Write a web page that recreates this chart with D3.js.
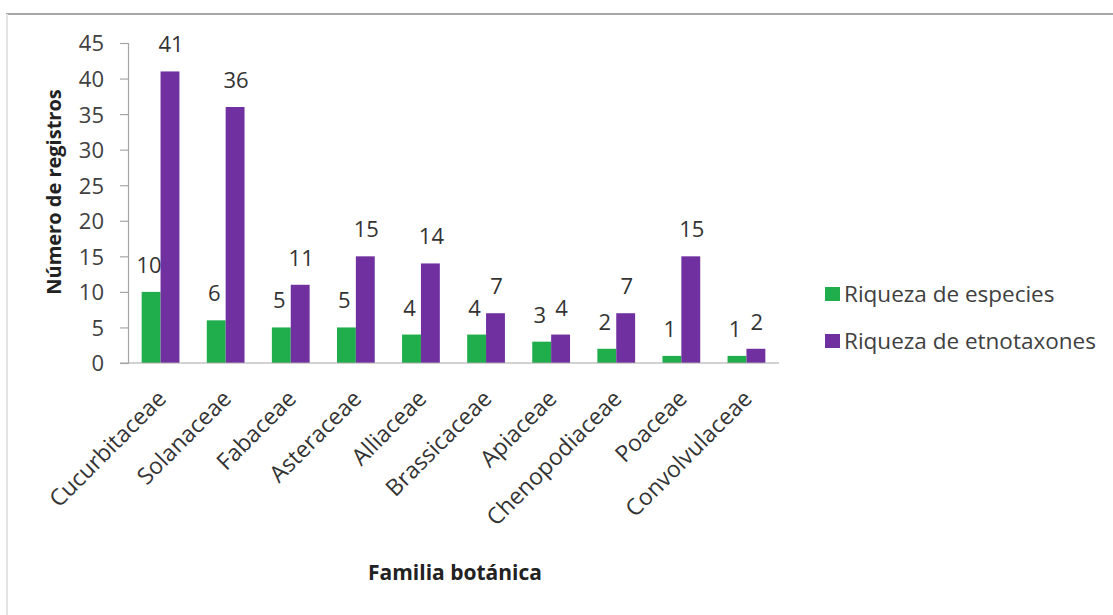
<!DOCTYPE html>
<html>
<head>
<meta charset="utf-8">
<script src="https://cdn.jsdelivr.net/npm/d3@7"></script>
<style>
  html, body { margin: 0; padding: 0; background: #fff; }
  svg, svg text { font-family: "Open Sans", "DejaVu Sans", sans-serif; }
  svg { display: block; }
</style>
</head>
<body>
<svg id="chart" width="1113" height="615"></svg>
<script>
// Familias botánicas y número de registros por familia
const familias = ["Cucurbitaceae", "Solanaceae", "Fabaceae", "Asteraceae", "Alliaceae",
  "Brassicaceae", "Apiaceae", "Chenopodiaceae", "Poaceae", "Convolvulaceae"];
const riquezaEspecies = [10, 6, 5, 5, 4, 4, 3, 2, 1, 1];
const riquezaEtnotaxones = [41, 36, 11, 15, 14, 7, 4, 7, 15, 2];
const yTicks = [0, 5, 10, 15, 20, 25, 30, 35, 40, 45];
const seriesNames = ["Riqueza de especies", "Riqueza de etnotaxones"];
const seriesColors = ["#1fae4b", "#7030a0"];

const svg = d3.select("#chart");
const W = 1113, H = 615;
const FONT = '"Open Sans", "DejaVu Sans", sans-serif';

// marco del gráfico
svg.append("line").attr("x1", 6).attr("x2", W).attr("y1", 14).attr("y2", 14)
  .attr("stroke", "#a6a6a6").attr("stroke-width", 2);
svg.append("line").attr("x1", 7).attr("x2", 7).attr("y1", 14).attr("y2", H)
  .attr("stroke", "#e4e4e4").attr("stroke-width", 2);

const plot = { left: 128, right: 779, top: 43, bottom: 363 };

const x0 = d3.scaleBand().domain(familias)
  .range([plot.left, plot.right]).paddingInner(0.42).paddingOuter(0.21);
const x1 = d3.scaleBand().domain([0, 1]).range([0, x0.bandwidth()]);
const y = d3.scaleLinear().domain([0, 45]).range([plot.bottom, plot.top]);

// eje Y
const yAxis = svg.append("g").attr("transform", `translate(${plot.left},0)`)
  .call(d3.axisLeft(y).tickValues(yTicks).tickSize(8).tickPadding(16))
  .attr("font-family", FONT);
yAxis.select(".domain").attr("stroke", "#a6a6a6").attr("stroke-width", 1.2);
yAxis.selectAll(".tick line").attr("stroke", "#a6a6a6").attr("stroke-width", 1.2);
yAxis.selectAll(".tick text").attr("fill", "#404040")
  .style("font-size", "22px").attr("dy", "0.36em");

// barras y etiquetas de valor
const series = [riquezaEspecies, riquezaEtnotaxones];
series.forEach((vals, s) => {
  svg.append("g").selectAll("rect").data(familias).join("rect")
    .attr("x", d => x0(d) + x1(s))
    .attr("y", (d, i) => y(vals[i]))
    .attr("width", x1.bandwidth())
    .attr("height", (d, i) => y(0) - y(vals[i]))
    .attr("fill", seriesColors[s]);
  svg.append("g").selectAll("text").data(familias).join("text")
    .attr("x", d => x0(d) + x1(s) + x1.bandwidth() / 2 - (s === 0 ? 2 : -1))
    .attr("y", (d, i) => y(vals[i]) - 19)
    .attr("text-anchor", "middle")
    .attr("fill", "#333")
    .style("font-size", "22px")
    .text((d, i) => vals[i]);
});

// eje X
const xAxis = svg.append("g").attr("transform", `translate(0,${plot.bottom})`)
  .call(d3.axisBottom(x0).tickSize(0).tickPadding(0))
  .attr("font-family", FONT);
xAxis.select(".domain").attr("d", `M${plot.left - 8},0H${plot.right}`)
  .attr("stroke", "#a6a6a6").attr("stroke-width", 1.2);
xAxis.selectAll(".tick text")
  .attr("text-anchor", "end")
  .attr("fill", "#333")
  .style("font-size", "23px")
  .attr("dy", 0)
  .attr("transform", "translate(7,37) rotate(-45)");

// títulos de ejes
svg.append("text")
  .attr("transform", "translate(61,192) rotate(-90)")
  .attr("text-anchor", "middle").attr("fill", "#222")
  .style("font-size", "20px").style("font-weight", "bold")
  .text("Número de registros");
svg.append("text")
  .attr("x", 455).attr("y", 580)
  .attr("text-anchor", "middle").attr("fill", "#222")
  .style("font-size", "21px").style("font-weight", "bold")
  .text("Familia botánica");

// leyenda
const legend = svg.append("g");
seriesNames.forEach((name, i) => {
  const ly = 294 + i * 47;
  legend.append("rect").attr("x", 825).attr("y", ly - 7).attr("width", 15).attr("height", 14)
    .attr("fill", seriesColors[i]);
  legend.append("text").attr("x", 844).attr("y", ly).attr("dy", "0.36em")
    .attr("fill", "#404040").style("font-size", "22.5px").text(name);
});
</script>
</body>
</html>
